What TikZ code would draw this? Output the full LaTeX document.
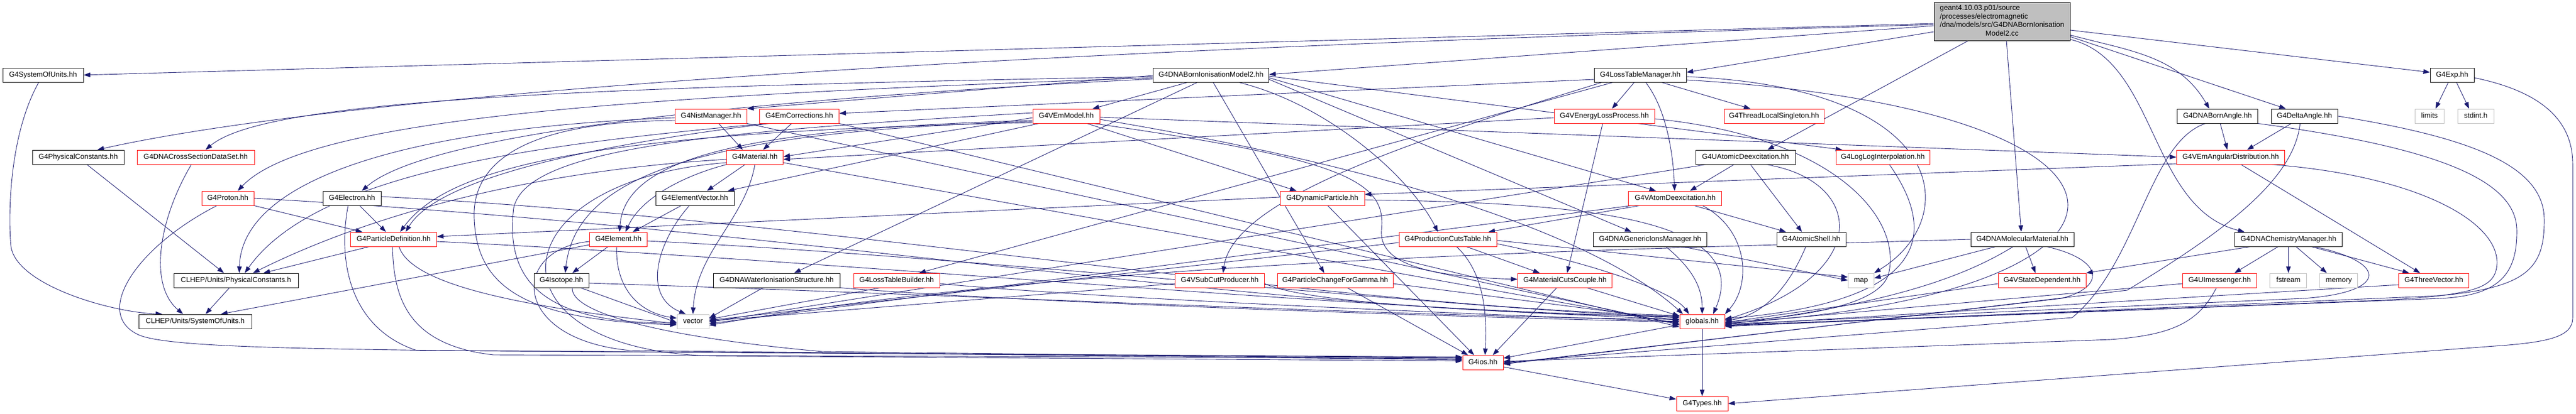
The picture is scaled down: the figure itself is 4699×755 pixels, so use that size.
\documentclass[tikz,border=0pt]{standalone}
\usepackage{fontspec}
\setmainfont{Liberation Sans}
\usetikzlibrary{arrows.meta}
\definecolor{edgec}{HTML}{191970}
\definecolor{grayb}{HTML}{BFBFBF}
\newcommand\gnodefont{\fontsize{13.2}{15.4}\selectfont}
\pgfdeclarelayer{bglayer}
\pgfdeclarelayer{edgelayer}
\pgfsetlayers{bglayer,edgelayer,main}
\tikzset{
 nb/.style={draw=black, line width=1pt, fill=white, minimum height=26pt, inner sep=0pt, text height=9.6pt, text depth=2.9pt, font=\gnodefont},
 nr/.style={nb, draw=red},
 ng/.style={nb, draw=grayb},
 mainst/.style={draw=black, line width=1pt, fill=grayb, minimum width=248pt, minimum height=70pt, inner sep=0pt, font=\gnodefont},
 edge/.style={draw=edgec, line width=0.9pt, -{Triangle[length=12pt,width=8.5pt]}},
}
\begin{document}
\begin{tikzpicture}[x=1pt,y=-1pt]
\useasboundingbox (0,0) rectangle (4699,755);
\begin{pgfonlayer}{bglayer}
\fill[white] (0,0) rectangle (4699,755);
\end{pgfonlayer}
% ---- nodes ----
\node[mainst] (main) at (3652,39) {\begin{tabular}{@{}l@{}}geant4.10.03.p01/source\\/processes/electromagnetic\\/dna/models/src/G4DNABornIonisation\\\multicolumn{1}{@{}c@{}}{Model2.cc}\end{tabular}};
% row 1
\node[nb, minimum width=147] (sou) at (78.6,137) {G4SystemOfUnits.hh};
\node[nb, minimum width=211] (born2) at (2209,137) {G4DNABornIonisationModel2.hh};
\node[nb, minimum width=168] (ltm) at (2992,137) {G4LossTableManager.hh};
\node[nb, minimum width=80] (exp) at (4473,137) {G4Exp.hh};
% row 2
\node[nr, minimum width=131] (nist) at (1297,212) {G4NistManager.hh};
\node[nr, minimum width=145] (emcorr) at (1458,212) {G4EmCorrections.hh};
\node[nr, minimum width=122] (vem) at (1945,212) {G4VEmModel.hh};
\node[nr, minimum width=183] (velp) at (2926.5,212) {G4VEnergyLossProcess.hh};
\node[nr, minimum width=182] (tls) at (3236,212) {G4ThreadLocalSingleton.hh};
\node[nb, minimum width=147] (bangle) at (4045,212) {G4DNABornAngle.hh};
\node[nb, minimum width=121] (dangle) at (4203.7,212) {G4DeltaAngle.hh};
\node[ng, minimum width=53] (limits) at (4431.7,212) {limits};
\node[ng, minimum width=66] (stdint) at (4516,212) {stdint.h};
% row 3
\node[nb, minimum width=167] (pc) at (142.6,287) {G4PhysicalConstants.hh};
\node[nr, minimum width=214] (cs) at (357,287) {G4DNACrossSectionDataSet.hh};
\node[nr, minimum width=103] (mat) at (1377,287) {G4Material.hh};
\node[nb, minimum width=182] (uad) at (3184,287) {G4UAtomicDeexcitation.hh};
\node[nr, minimum width=171] (loglog) at (3434.5,287) {G4LogLogInterpolation.hh};
\node[nr, minimum width=197] (vang) at (4069,287) {G4VEmAngularDistribution.hh};
% row 4
\node[nr, minimum width=95] (proton) at (415.6,362) {G4Proton.hh};
\node[nb, minimum width=106] (electron) at (642,362) {G4Electron.hh};
\node[nb, minimum width=143] (ev) at (1267.5,362) {G4ElementVector.hh};
\node[nr, minimum width=154] (dyn) at (2412,362) {G4DynamicParticle.hh};
\node[nr, minimum width=170] (vad) at (3055.7,362) {G4VAtomDeexcitation.hh};
% row 5
\node[nr, minimum width=157] (pd) at (718,437) {G4ParticleDefinition.hh};
\node[nr, minimum width=105] (elem) at (1128,437) {G4Element.hh};
\node[nr, minimum width=178] (pct) at (2641,437) {G4ProductionCutsTable.hh};
\node[nb, minimum width=207] (gim) at (3010,437) {G4DNAGenericIonsManager.hh};
\node[nb, minimum width=126] (ash) at (3304,437) {G4AtomicShell.hh};
\node[nb, minimum width=188] (dmm) at (3689,437) {G4DNAMolecularMaterial.hh};
\node[nb, minimum width=196] (chem) at (4174.4,437) {G4DNAChemistryManager.hh};
% row 6
\node[nb, minimum width=227] (cpc) at (430.5,512) {CLHEP/Units/PhysicalConstants.h};
\node[nb, minimum width=100] (iso) at (1024,512) {G4Isotope.hh};
\node[nb, minimum width=231] (wis) at (1416.7,512) {G4DNAWaterIonisationStructure.hh};
\node[nr, minimum width=157] (ltb) at (1635.6,512) {G4LossTableBuilder.hh};
\node[nr, minimum width=163] (vsc) at (2225,512) {G4VSubCutProducer.hh};
\node[nr, minimum width=211] (pcg) at (2435.6,512) {G4ParticleChangeForGamma.hh};
\node[nr, minimum width=172] (mcc) at (2854.7,512) {G4MaterialCutsCouple.hh};
\node[ng, minimum width=47] (map) at (3394.7,512) {map};
\node[nr, minimum width=160] (vsd) at (3725,512) {G4VStateDependent.hh};
\node[nr, minimum width=135] (uim) at (4049,512) {G4UImessenger.hh};
\node[ng, minimum width=67] (fstream) at (4174.4,512) {fstream};
\node[ng, minimum width=69] (memory) at (4266.4,512) {memory};
\node[nr, minimum width=128] (tv) at (4439.6,512) {G4ThreeVector.hh};
% row 7-9
\node[nb, minimum width=206] (csu) at (356,587) {CLHEP/Units/SystemOfUnits.h};
\node[ng, minimum width=58] (vector) at (1264,587) {vector};
\node[nr, minimum width=82] (globals) at (3105,587) {globals.hh};
\node[nr, minimum width=74] (ios) at (2705,662) {G4ios.hh};
\node[nr, minimum width=94] (types) at (3105,737) {G4Types.hh};
% ---- edges ----
\begin{pgfonlayer}{edgelayer}
% main
\draw[edge] ([yshift=-4pt]main.west) -- (sou.east);
\draw[edge] ([yshift=-6pt]main.west) .. controls (1500,100) and (550,190) .. ([xshift=35pt]pc.north);
\draw[edge] ([yshift=-8pt]main.west) -- ([yshift=1pt]born2.east);
\draw[edge] ([yshift=-19pt]main.west) -- ([yshift=5pt]ltm.east);
\draw[edge] ([xshift=-62pt]main.south) -- ([xshift=40pt]uad.north);
\draw[edge] ([xshift=8pt]main.south) -- ([xshift=-2pt]dmm.north);
\draw[edge] ([yshift=-25pt]main.east) to[out=-15,in=120] ([xshift=-15pt]bangle.north);
\draw[edge] ([yshift=-28pt]main.east) -- ([xshift=-34pt]dangle.north);
\draw[edge] ([yshift=-16pt]main.east) -- ([yshift=5pt]exp.west);
\draw[edge] ([yshift=-33pt]main.east) .. controls (3935,110) and (3920,380) .. ([xshift=-80pt]chem.north);
% left clhep
\draw[edge] ([xshift=-8pt]sou.south) .. controls (15,250) and (15,400) .. (20,450) .. controls (30,520) and (200,570) .. ([xshift=-60pt]csu.north);
\draw[edge] ([xshift=16pt]pc.south) -- ([xshift=-22pt]cpc.north);
\draw[edge] ([xshift=-12pt]cpc.south) -- ([xshift=19pt]csu.north);
\draw[edge] ([xshift=-8pt]cs.south) .. controls (290,400) and (270,520) .. ([xshift=-22pt]csu.north);
% born2
\draw[edge] ([xshift=-43pt]born2.south) -- ([xshift=48pt]vem.north);
\draw[edge] ([xshift=4pt]born2.south) -- ([xshift=-20pt]pcg.north);
\draw[edge] ([xshift=51pt]born2.south) .. controls (2420,190) and (2570,320) .. ([xshift=-18pt]pct.north);
\draw[edge] ([yshift=-3pt]born2.west) .. controls (1000,160) and (480,185) .. ([xshift=18pt]cs.north);
\draw[edge] ([yshift=-7pt]born2.west) .. controls (1100,195) and (750,270) .. ([xshift=18pt]electron.north);
\draw[edge] ([yshift=-5pt]born2.west) .. controls (1150,175) and (560,215) .. ([xshift=18pt]proton.north);
\draw[edge] ([yshift=-1pt]born2.west) -- (nist.north east);
\draw[edge] ([yshift=-8pt]born2.east) -- ([xshift=-34pt]gim.north);
\draw[edge] ([yshift=-2pt]born2.east) -- ([xshift=-74pt]loglog.north);
\draw[edge] ([xshift=-25pt]born2.south) -- ([xshift=32pt]wis.north);
\draw[edge] ([yshift=-5pt]born2.east) -- ([xshift=-35pt]vad.north);
% ltm
\draw[edge] ([xshift=-11pt]ltm.south) -- ([xshift=14pt]velp.north);
\draw[edge] ([xshift=39pt]ltm.south) -- ([xshift=-43pt]tls.north);
\draw[edge] ([xshift=10pt]ltm.south) .. controls (3040,200) and (3052,280) .. ([xshift=-1pt]vad.north);
\draw[edge] ([yshift=-8pt]ltm.west) -- ([yshift=5pt]emcorr.east);
\draw[edge] ([xshift=-50pt]ltm.south) -- ([xshift=41pt]ltb.north);
\draw[edge] ([xshift=-70pt]ltm.south) .. controls (2600,250) and (2250,360) .. ([xshift=6pt]vsc.north);
\draw[edge] ([yshift=-3pt]ltm.east) .. controls (3560,160) and (3580,400) .. (map.north east);
\draw[edge] ([yshift=-9pt]ltm.east) .. controls (4000,200) and (3980,540) .. ([yshift=-3pt]globals.east);
% uad
\draw[edge] ([xshift=-21pt]uad.south) -- ([xshift=27pt]vad.north);
\draw[edge] ([xshift=9pt]uad.south) -- ([xshift=-17pt]ash.north);
\draw[edge] ([xshift=38pt]uad.south) .. controls (3400,330) and (3420,500) .. ([yshift=3pt]globals.east);
\draw[edge] ([xshift=-72pt]uad.south) -- ([yshift=-1pt]vector.east);
% vad
\draw[edge] ([xshift=-65pt]vad.south) -- ([xshift=74pt]pct.north);
\draw[edge] ([xshift=35pt]vad.south) -- ([xshift=-46pt]ash.north);
\draw[edge] ([xshift=50pt]vad.south) .. controls (3190,420) and (3195,520) .. (globals.north east);
\draw[edge] ([xshift=-80pt]vad.south) -- ([yshift=-4pt]vector.east);
% gim, ash, loglog
\draw[edge] ([xshift=29pt]gim.south) to[out=-40,in=90] (globals.north);
\draw[edge] ([xshift=60pt]gim.south) -- (map.west);
\draw[edge] ([xshift=-10pt]ash.south) .. controls (3265,520) and (3220,575) .. ([yshift=1pt]globals.east);
\draw[edge] ([xshift=12pt]loglog.south) .. controls (3530,420) and (3530,550) .. ([yshift=5pt]globals.east);
% dmm
\draw[edge] ([xshift=-49pt]dmm.south) -- ([yshift=4pt]map.east);
\draw[edge] ([xshift=6pt]dmm.south) -- ([xshift=-12pt]vsd.north);
\draw[edge] ([xshift=-17pt]dmm.south) .. controls (3560,520) and (3400,560) .. ([yshift=-6pt]globals.east);
\draw[edge] ([xshift=45pt]dmm.south) .. controls (3840,475) and (3840,525) .. (3760,545) -- ([yshift=-2pt]ios.east);
\draw[edge] (dmm.west) .. controls (3000,455) and (2000,470) .. ([yshift=-7pt]vector.east);
% chem
\draw[edge] ([xshift=-19pt]chem.south) -- ([xshift=27pt]uim.north);
\draw[edge] (chem.south) -- (fstream.north);
\draw[edge] ([xshift=14pt]chem.south) -- ([xshift=-22pt]memory.north);
\draw[edge] ([xshift=42pt]chem.south) -- ([xshift=-45pt]tv.north);
\draw[edge] ([xshift=-70pt]chem.south) -- (vsd.north east);
\draw[edge] ([xshift=48pt]chem.south) .. controls (4360,480) and (4355,535) .. (4200,545) -- ([yshift=-5pt]globals.east);
% uim, tv, vsd
\draw[edge] ([yshift=-6pt]uim.west) -- ([yshift=-4pt]globals.east);
\draw[edge] ([xshift=-6pt]uim.south) .. controls (4010,590) and (3960,612) .. (3850,620) -- ([yshift=2pt]ios.east);
\draw[edge] ([yshift=-8pt]tv.west) -- ([yshift=-7pt]globals.east);
\draw[edge] ([yshift=-6pt]vsd.west) -- ([yshift=-2pt]globals.east);
% bangle, dangle, vang
\draw[edge] ([xshift=5pt]bangle.south) -- ([xshift=-6pt]vang.north);
\draw[edge] (bangle.south east) .. controls (4450,270) and (4590,330) .. (4591,420) .. controls (4592,500) and (4560,540) .. (4450,545) -- ([yshift=-8pt]globals.east);
\draw[edge] ([xshift=-22pt]bangle.south) .. controls (3920,260) and (3900,480) .. (3780,580) -- (ios.east);
\draw[edge] ([xshift=-24pt]dangle.south) -- ([xshift=30pt]vang.north);
\draw[edge] (dangle.east) .. controls (4500,250) and (4640,300) .. (4641,400) .. controls (4642,490) and (4610,525) .. (4450,540) -- ([yshift=-9pt]globals.east);
\draw[edge] ([xshift=-8pt]dangle.south) .. controls (4185,320) and (4080,410) .. (3880,530) -- ([yshift=-3pt]ios.east);
\draw[edge] ([yshift=-12pt]vang.west) -- ([yshift=7pt]dyn.east);
\draw[edge] ([xshift=19pt]vang.south) -- ([xshift=-25pt]tv.north);
\draw[edge] ([xshift=75pt]vang.south) .. controls (4400,320) and (4555,400) .. (4555,480) .. controls (4553,525) and (4520,538) .. (4350,548) -- ([yshift=-7pt]globals.east);
% vem
\draw[edge] ([yshift=-3pt]vem.west) -- ([yshift=1pt]mat.east);
\draw[edge] ([xshift=-50pt]vem.south) -- ([xshift=-12pt]ev.north east);
\draw[edge] ([yshift=-8pt]vem.west) .. controls (1350,235) and (1140,290) .. ([xshift=2pt]elem.north);
\draw[edge] ([yshift=-10pt]vem.west) .. controls (1250,240) and (1050,330) .. ([xshift=7pt]iso.north);
\draw[edge] ([yshift=-12pt]vem.west) .. controls (1100,240) and (820,300) .. ([xshift=12pt]pd.north);
\draw[edge] ([xshift=38pt]vem.south) -- ([xshift=-47pt]dyn.north);
\draw[edge] ([xshift=50pt]vem.south) .. controls (2450,290) and (2530,330) .. (2520,420) .. controls (2515,480) and (2600,505) .. ([yshift=2pt]mcc.west);
\draw[edge] ([yshift=-2pt]vem.east) -- (vang.west);
\draw[edge] ([yshift=-6pt]vem.east) .. controls (2500,300) and (2900,420) .. ([xshift=-35pt]globals.north);
\draw[edge] ([yshift=6pt]vem.west) .. controls (1300,240) and (960,270) .. (937,380) .. controls (920,520) and (1000,590) .. ([yshift=-3pt]vector.west);
% nist
\draw[edge] ([xshift=14pt]nist.south) -- ([xshift=-22pt]mat.north);
\draw[edge] ([yshift=-3pt]nist.west) .. controls (700,235) and (440,340) .. ([xshift=6pt]cpc.north);
\draw[edge] ([yshift=-8pt]nist.west) .. controls (950,222) and (860,300) .. (865,400) .. controls (870,520) and (950,585) .. ([yshift=-6pt]vector.west);
\draw[edge] (nist.south east) -- ([yshift=-6pt]globals.west);
% emcorr
\draw[edge] ([xshift=-14pt]emcorr.south) -- ([xshift=15pt]mat.north);
\draw[edge] ([xshift=-60pt]emcorr.south) .. controls (1000,262) and (580,310) .. ([xshift=16pt]cpc.north);
\draw[edge] ([xshift=-55pt]emcorr.south) .. controls (1000,275) and (790,340) .. ([xshift=22pt]pd.north);
\draw[edge] (emcorr.south east) -- ([yshift=-10pt]globals.west);
% mat
\draw[edge] ([xshift=-18pt]mat.south) -- ([xshift=22pt]ev.north);
\draw[edge] (mat.south west) .. controls (1250,320) and (1170,360) .. ([xshift=13pt]elem.north);
\draw[edge] (mat.south) .. controls (1360,400) and (1270,460) .. (vector.north);
\draw[edge] ([yshift=-4pt]mat.west) .. controls (1000,310) and (700,380) .. ([xshift=31pt]cpc.north);
\draw[edge] ([yshift=-10pt]mat.west) .. controls (900,330) and (880,640) .. (1300,650) -- ([yshift=3pt]ios.west);
\draw[edge] ([yshift=-10pt]mat.east) -- ([yshift=-4pt]globals.west);
% ev, elem, iso
\draw[edge] ([xshift=-25pt]ev.south) -- ([xshift=26pt]elem.north);
\draw[edge] ([xshift=-10pt]ev.south) .. controls (1200,440) and (1170,540) .. ([xshift=-13pt]vector.north);
\draw[edge] ([xshift=-19pt]elem.south) -- ([xshift=20pt]iso.north);
\draw[edge] ([xshift=-3pt]elem.south) .. controls (1122,520) and (1160,570) .. ([yshift=6pt]vector.west);
\draw[edge] ([yshift=-3pt]elem.east) .. controls (1800,470) and (2600,560) .. ([yshift=7pt]globals.west);
\draw[edge] ([yshift=-4pt]elem.west) .. controls (930,455) and (930,620) .. (1150,640) -- ([yshift=5pt]ios.west);
\draw[edge] ([yshift=-10pt]elem.west) -- ([xshift=47pt]csu.north);
\draw[edge] ([xshift=35pt]iso.south) -- ([yshift=-2pt]vector.west);
\draw[edge] ([yshift=-5pt]iso.east) .. controls (1800,540) and (2600,580) .. ([yshift=4pt]globals.west);
\draw[edge] ([xshift=20pt]iso.south) .. controls (1040,570) and (1200,615) .. (1500,642) -- ([yshift=6pt]ios.west);
% pd, proton, electron
\draw[edge] ([xshift=-45pt]pd.south) -- ([xshift=50pt]cpc.north);
\draw[edge] ([xshift=-2pt]pd.south) .. controls (718,540) and (740,630) .. (900,648) -- ([yshift=8pt]ios.west);
\draw[edge] ([xshift=10pt]pd.south) .. controls (750,520) and (950,560) .. ([yshift=-4pt]vector.west);
\draw[edge] ([yshift=-4pt]pd.east) .. controls (1600,480) and (2500,570) .. ([yshift=9pt]globals.west);
\draw[edge] (proton.south east) -- ([xshift=-57pt]pd.north);
\draw[edge] (proton.east) .. controls (1500,420) and (2300,575) .. ([yshift=10pt]globals.west);
\draw[edge] ([xshift=-20pt]proton.south) .. controls (250,450) and (170,570) .. (250,610) .. controls (290,632) and (500,636) .. (800,640) -- ([yshift=10pt]ios.west);
\draw[edge] ([xshift=14pt]electron.south) -- ([xshift=-14pt]pd.north);
\draw[edge] ([yshift=3pt]electron.east) .. controls (1500,400) and (2400,560) .. ([yshift=11pt]globals.west);
\draw[edge] ([xshift=-7pt]electron.south) .. controls (615,480) and (640,600) .. (760,640) -- ([yshift=9pt]ios.west);
% dyn, velp
\draw[edge] ([yshift=2pt]dyn.west) -- ([yshift=5pt]pd.east);
\draw[edge] ([xshift=10pt]dyn.south) -- ([xshift=-16pt]ios.north);
\draw[edge] ([yshift=-3pt]dyn.east) .. controls (2900,370) and (3200,400) .. ([xshift=20pt]globals.north);
\draw[edge] ([xshift=-3pt]velp.south) -- ([xshift=4pt]mcc.north);
\draw[edge] ([yshift=-3pt]velp.west) -- ([yshift=-4pt]mat.east);
\draw[edge] ([yshift=-5pt]velp.east) .. controls (3350,250) and (3470,400) .. (3445,500) .. controls (3430,555) and (3300,578) .. ([yshift=-1pt]globals.east);
% pct, mcc, pcg, vsc, ltb, wis
\draw[edge] ([xshift=34pt]pct.south) -- ([xshift=-46pt]mcc.north);
\draw[edge] ([xshift=16pt]pct.south) .. controls (2710,500) and (2712,580) .. ([xshift=4pt]ios.north);
\draw[edge] ([yshift=-8pt]pct.east) .. controls (2900,480) and (3050,530) .. ([xshift=-24pt]globals.north);
\draw[edge] ([yshift=-6pt]pct.west) -- ([yshift=2pt]vector.east);
\draw[edge] ([yshift=-2pt]pct.east) -- ([yshift=6pt]map.west);
\draw[edge] ([xshift=-15pt]mcc.south) -- ([xshift=18pt]ios.north);
\draw[edge] ([xshift=40pt]mcc.south) -- ([yshift=10pt]globals.west);
\draw[edge] ([xshift=22pt]pcg.south) -- ([xshift=-27pt]ios.north);
\draw[edge] ([yshift=-6pt]pcg.east) -- ([yshift=2pt]globals.west);
\draw[edge] ([yshift=-6pt]vsc.east) .. controls (2400,560) and (2800,570) .. ([yshift=3pt]globals.west);
\draw[edge] ([yshift=-6pt]vsc.west) -- ([yshift=1pt]vector.east);
\draw[edge] ([xshift=-30pt]ltb.south) -- ([yshift=4pt]vector.east);
\draw[edge] ([yshift=-6pt]ltb.east) .. controls (2000,545) and (2700,575) .. (globals.west);
\draw[edge] ([xshift=-25pt]wis.south) -- ([yshift=6pt]vector.east);
\draw[edge] (wis.south east) .. controls (1900,555) and (2700,580) .. ([yshift=-1pt]globals.west);
% bottom
\draw[edge] ([yshift=-6pt]globals.west) -- ([yshift=8pt]ios.east);
\draw[edge] (globals.south) -- (types.north);
\draw[edge] ([yshift=-8pt]ios.east) -- ([yshift=8pt]types.west);
\draw[edge] ([xshift=-7pt]exp.south) -- ([xshift=11pt]limits.north);
\draw[edge] ([xshift=8pt]exp.south) -- ([xshift=-12pt]stdint.north);
\draw[edge] ([yshift=-5pt]exp.east) .. controls (4650,170) and (4693,230) .. (4693,300) -- (4693,580) .. controls (4693,615) and (4650,625) .. (4550,632) -- (types.east);
\end{pgfonlayer}
\end{tikzpicture}
\end{document}
